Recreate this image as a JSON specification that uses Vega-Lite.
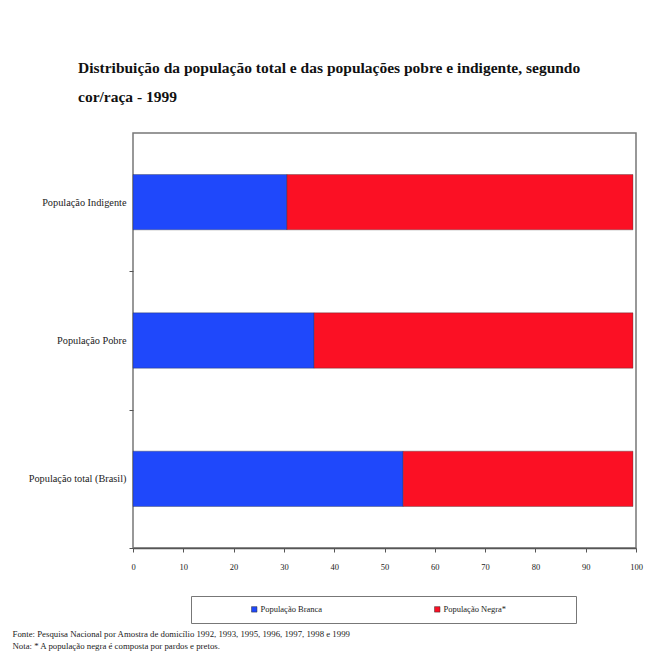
{
  "$schema": "https://vega.github.io/schema/vega-lite/v6.json",
  "width": 503,
  "height": 415,
  "autosize": {"type": "none"},
  "padding": {"left": 133, "top": 133, "right": 31, "bottom": 110},
  "background": "white",
  "title": {
    "text": ["Distribuição da população total e das populações pobre e indigente, segundo", "cor/raça - 1999"],
    "anchor": "start",
    "frame": "group",
    "dx": -55,
    "offset": 28,
    "font": "Liberation Serif",
    "fontSize": 15.5,
    "fontWeight": "bold",
    "color": "#111",
    "lineHeight": 29
  },
  "data": {
    "values": [
      {"grupo": "População Indigente", "cor": "População Branca", "ordem": 1, "valor": 30.6},
      {"grupo": "População Indigente", "cor": "População Negra*", "ordem": 2, "valor": 68.8},
      {"grupo": "População Pobre", "cor": "População Branca", "ordem": 1, "valor": 36.0},
      {"grupo": "População Pobre", "cor": "População Negra*", "ordem": 2, "valor": 63.4},
      {"grupo": "População total (Brasil)", "cor": "População Branca", "ordem": 1, "valor": 53.7},
      {"grupo": "População total (Brasil)", "cor": "População Negra*", "ordem": 2, "valor": 45.7}
    ]
  },
  "mark": {"type": "bar", "stroke": "#333", "strokeWidth": 0.6, "strokeOpacity": 0.6},
  "encoding": {
    "y": {
      "field": "grupo",
      "type": "nominal",
      "sort": ["População Indigente", "População Pobre", "População total (Brasil)"],
      "scale": {"paddingInner": 0.6, "paddingOuter": 0.3},
      "axis": {
        "title": null,
        "tickSize": 4,
        "tickColor": "#555",
        "tickOffset": 69,
        "labelOffset": -69,
        "labelPadding": 3,
        "labelFont": "Liberation Serif",
        "labelFontSize": 10.3,
        "labelColor": "#222",
        "domain": false
      }
    },
    "x": {
      "field": "valor",
      "type": "quantitative",
      "stack": "zero",
      "scale": {"domain": [0, 100], "nice": false},
      "axis": {
        "values": [0, 10, 20, 30, 40, 50, 60, 70, 80, 90, 100],
        "grid": false,
        "tickSize": 4,
        "tickColor": "#555",
        "domainColor": "#555",
        "domainWidth": 1.5,
        "labelPadding": 10,
        "labelFont": "Liberation Serif",
        "labelFontSize": 8.5,
        "labelColor": "#222",
        "labelFlush": false,
        "title": ["Fonte: Pesquisa Nacional por Amostra de domicílio 1992, 1993, 1995, 1996, 1997, 1998 e 1999", "Nota: * A população negra é composta por pardos e pretos."],
        "titleX": -121,
        "titleY": 81,
        "titleAlign": "left",
        "titleAnchor": "start",
        "titleBaseline": "top",
        "titleFont": "Liberation Serif",
        "titleFontSize": 8.8,
        "titleFontWeight": "normal",
        "titleColor": "#222",
        "titleLineHeight": 12.5
      }
    },
    "color": {
      "field": "cor",
      "type": "nominal",
      "scale": {"domain": ["População Branca", "População Negra*"], "range": ["#1f48fb", "#fb1024"]},
      "legend": {
        "title": null,
        "orient": "none",
        "legendX": 58,
        "legendY": 463,
        "direction": "horizontal",
        "strokeColor": "#777",
        "padding": 9,
        "symbolType": "square",
        "symbolSize": 30,
        "symbolOffset": 50,
        "symbolStrokeColor": "#333",
        "symbolStrokeWidth": 0.5,
        "labelOffset": 2,
        "columnPadding": 0,
        "labelFont": "Liberation Serif",
        "labelFontSize": 8.5,
        "labelColor": "#222",
        "labelLimit": 400,
        "labelExpr": "datum.label + '\u00a0\u00a0\u00a0\u00a0\u00a0\u00a0\u00a0\u00a0\u00a0\u00a0\u00a0\u00a0\u00a0\u00a0\u00a0\u00a0\u00a0\u00a0\u00a0\u00a0\u00a0\u00a0\u00a0\u00a0\u00a0\u2800'"
      }
    },
    "order": {"field": "ordem", "type": "quantitative"}
  },
  "config": {
    "view": {"stroke": "#777", "strokeWidth": 1.5}
  }
}
